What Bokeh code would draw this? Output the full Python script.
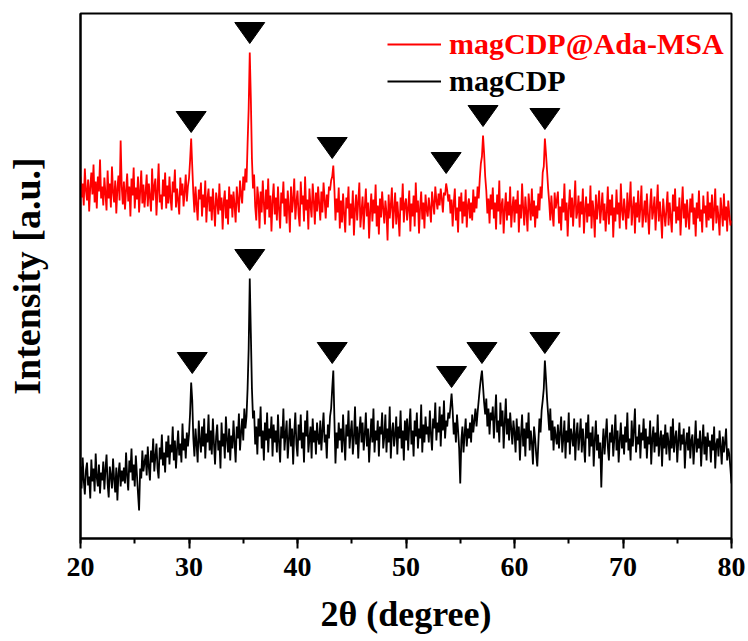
import numpy as np
from bokeh.plotting import figure
from bokeh.models import Range1d, SingleIntervalTicker, FixedTicker, Legend, LegendItem
from bokeh.embed import file_html
from bokeh.resources import INLINE

# 2-theta grid (0.1 degree step, 20..80)
two_theta = np.round(np.arange(20.0, 80.0001, 0.1), 1)

# magCDP@Ada-MSA (red, offset trace) intensity, a.u.
red_intensity = [
    362, 341, 355, 333, 370, 348, 338, 359, 327, 352, 366, 344, 374, 336, 357, 330, 362, 347, 379, 340,
    352, 333, 361, 345, 328, 368, 340, 355, 331, 372, 346, 336, 358, 325, 350, 363, 338, 398, 352, 334,
    357, 329, 348, 365, 337, 352, 322, 360, 343, 371, 330, 351, 339, 362, 326, 347, 368, 335, 354, 331,
    346, 364, 332, 355, 341, 327, 370, 338, 352, 360, 323, 348, 375, 336, 344, 329, 359, 342, 366, 330,
    353, 335, 362, 340, 328, 357, 346, 369, 331, 350, 338, 324, 361, 343, 355, 332, 347, 364, 337, 352,
    360, 378, 400, 372, 345, 326, 352, 334, 318, 349, 339, 356, 322, 344, 331, 358, 316, 340, 350, 327,
    342, 318, 350, 331, 312, 346, 337, 324, 355, 328, 341, 309, 336, 348, 320, 339, 314, 352, 330, 344,
    321, 347, 333, 316, 352, 338, 326, 358, 344, 335, 362, 348, 370, 356, 395, 430, 486, 440, 380, 350,
    364, 332, 318, 352, 340, 310, 347, 326, 358, 335, 314, 349, 329, 360, 321, 343, 307, 338, 355, 324,
    341, 318, 352, 329, 310, 346, 335, 357, 322, 340, 315, 348, 331, 306, 352, 326, 339, 360, 319, 336,
    348, 324, 312, 357, 334, 343, 317, 362, 328, 339, 309, 350, 333, 321, 355, 338, 314, 346, 327, 352,
    335, 318, 347, 326, 356, 339, 320, 344, 331, 352, 348, 358, 362, 373, 350, 318, 340, 326, 351, 310,
    338, 316, 345, 324, 306, 341, 330, 352, 313, 335, 320, 348, 303, 329, 344, 318, 337, 356, 311, 327,
    342, 309, 331, 350, 322, 336, 300, 328, 345, 317, 339, 325, 354, 312, 333, 304, 340, 321, 347, 330,
    315, 338, 326, 298, 344, 320, 333, 351, 310, 329, 346, 314, 337, 322, 302, 341, 328, 355, 316, 334,
    340, 318, 330, 348, 307, 335, 322, 343, 312, 356, 326, 338, 305, 331, 347, 319, 336, 310, 344, 329,
    322, 341, 330, 316, 347, 335, 324, 352, 338, 329, 345, 333, 350, 340, 326, 346, 343, 355, 348, 337,
    344, 325, 339, 312, 335, 350, 318, 331, 306, 342, 327, 346, 315, 337, 322, 349, 311, 333, 340, 320,
    336, 318, 349, 326, 342, 330, 352, 340, 360, 375, 382, 403, 385, 362, 348, 325, 340, 315, 344, 329,
    351, 320, 336, 309, 344, 327, 358, 314, 333, 340, 305, 329, 346, 318, 337, 323, 352, 311, 330, 342,
    316, 339, 325, 348, 306, 334, 320, 355, 330, 313, 342, 326, 307, 345, 332, 318, 350, 322, 338, 311,
    333, 320, 345, 328, 352, 340, 366, 372, 400, 385, 368, 350, 336, 318, 343, 325, 312, 346, 330, 338,
    347, 315, 332, 308, 340, 326, 355, 318, 336, 302, 330, 349, 321, 341, 312, 334, 358, 320, 327, 343,
    311, 337, 324, 350, 305, 329, 342, 316, 335, 322, 353, 310, 338, 327, 301, 344, 319, 332, 348, 315,
    330, 346, 318, 335, 307, 326, 352, 314, 339, 323, 344, 301, 331, 317, 349, 324, 336, 310, 355, 328,
    318, 340, 327, 309, 346, 320, 334, 357, 313, 329, 342, 305, 336, 321, 348, 316, 330, 353, 311, 325,
    338, 316, 345, 324, 304, 333, 350, 319, 328, 342, 308, 331, 354, 317, 337, 322, 300, 340, 326, 312,
    329, 347, 313, 336, 321, 306, 344, 327, 350, 315, 332, 318, 341, 303, 329, 352, 320, 335, 311, 339,
    322, 309, 340, 326, 345, 314, 331, 302, 336, 320, 348, 317, 329, 306, 343, 325, 333, 311, 347, 318,
    336, 320, 344, 308, 329, 350, 315, 333, 322, 303, 341, 327, 312, 345, 318, 332, 307, 338, 324, 313,
    318,
]

# magCDP (black trace) intensity, a.u.
black_intensity = [
    72, 50, 81, 58, 44, 68, 76, 53, 62, 40, 79, 57, 70, 47, 85, 61, 52, 74, 45, 66,
    58, 77, 49, 69, 84, 55, 41, 72, 63, 50, 80, 59, 46, 71, 38, 65, 76, 52, 68, 57,
    71, 55, 86, 62, 48, 78, 66, 90, 58, 74, 52, 83, 64, 45, 28, 70, 60, 88, 67, 76,
    84, 63, 92, 71, 58, 88, 76, 100, 67, 82, 95, 70, 60, 91, 79, 104, 73, 86, 66, 97,
    81, 103, 74, 94, 86, 112, 78, 98, 70, 90, 108, 83, 95, 76, 115, 88, 100, 80, 106, 92,
    104, 125, 156, 138, 100, 82, 110, 94, 76, 118, 98, 86, 112, 92, 120, 80, 105, 96, 124, 88,
    108, 84, 120, 95, 74, 102, 114, 88, 98, 70, 116, 92, 105, 80, 122, 99, 86, 110, 78, 103,
    90, 118, 96, 76, 112, 100, 125, 88, 106, 120, 98, 130, 110, 122, 150, 190, 260, 205, 150, 120,
    128, 94, 112, 84, 120, 102, 132, 90, 108, 78, 116, 98, 126, 86, 110, 100, 122, 82, 114, 96,
    108, 86, 124, 96, 76, 112, 100, 130, 88, 104, 118, 80, 98, 120, 92, 110, 74, 106, 126, 94,
    82, 114, 98, 124, 90, 106, 76, 118, 102, 128, 86, 100, 112, 80, 120, 96, 108, 84, 116, 100,
    94, 118, 88, 108, 126, 96, 104, 80, 114, 100, 122, 130, 150, 168, 120, 75, 106, 90, 116, 98,
    110, 86, 124, 98, 78, 114, 102, 128, 90, 106, 118, 84, 100, 132, 94, 112, 80, 108, 122, 96,
    116, 88, 104, 126, 92, 110, 76, 100, 120, 96, 130, 86, 108, 98, 118, 82, 112, 104, 126, 90,
    102, 124, 86, 110, 96, 132, 80, 106, 116, 92, 104, 122, 84, 112, 100, 128, 90, 108, 78, 118,
    98, 120, 88, 112, 130, 94, 108, 82, 118, 102, 126, 90, 110, 100, 134, 86, 114, 96, 122, 104,
    112, 96, 128, 104, 88, 120, 110, 136, 98, 116, 106, 132, 92, 124, 108, 138, 100, 118, 112, 126,
    120, 132, 145, 128, 104, 116, 96, 124, 108, 90, 55, 98, 112, 86, 104, 120, 92, 110, 100, 116,
    96, 124, 106, 118, 130, 112, 126, 138, 150, 160, 168, 152, 136, 124, 140, 112, 130, 104, 126, 118,
    132, 100, 122, 144, 106, 118, 96, 136, 112, 128, 90, 116, 140, 104, 120, 98, 126, 110, 94, 118,
    106, 86, 120, 98, 112, 78, 104, 124, 92, 110, 82, 116, 100, 126, 88, 108, 96, 74, 112, 100,
    84, 72, 96, 120, 106, 128, 138, 150, 178, 160, 140, 124, 108, 130, 98, 118, 88, 112, 102, 94,
    114, 90, 106, 122, 86, 100, 118, 80, 108, 96, 126, 84, 110, 102, 92, 120, 78, 104, 116, 88,
    102, 120, 86, 110, 94, 76, 116, 100, 124, 82, 106, 92, 112, 72, 98, 118, 88, 104, 80, 96,
    51, 90, 110, 84, 102, 120, 92, 78, 106, 96, 114, 82, 100, 124, 88, 108, 76, 98, 116, 90,
    104, 84, 112, 96, 126, 88, 100, 78, 118, 92, 108, 130, 86, 102, 94, 114, 80, 106, 98, 120,
    90, 110, 80, 102, 94, 118, 74, 100, 112, 86, 106, 92, 124, 82, 98, 108, 72, 104, 90, 114,
    84, 106, 96, 78, 112, 90, 120, 86, 100, 108, 76, 98, 116, 88, 104, 94, 110, 70, 96, 106,
    88, 112, 80, 98, 104, 74, 94, 118, 86, 100, 90, 108, 72, 96, 114, 84, 102, 78, 106, 92,
    98, 76, 104, 88, 112, 70, 94, 100, 82, 108, 92, 74, 102, 86, 96, 110, 78, 90, 84, 70,
    55,
]

# peak markers (position in 2-theta, level of marker tip)
red_peaks = [30.2, 35.6, 43.2, 53.7, 57.1, 62.8]
red_marker_level = [406, 495, 380, 365, 412, 409]
black_peaks = [30.3, 35.6, 43.2, 54.2, 57.0, 62.8]
black_marker_level = [165, 268, 175, 151, 175, 185]

series_labels = ["magCDP@Ada-MSA", "magCDP"]

FONT = "Liberation Serif"
TRI_HALF_W = 1.38   # in degrees (~15 px)
TRI_H = 21          # in intensity units (~21 px)

p = figure(width=748, height=641, x_range=Range1d(20, 80), y_range=Range1d(0, 525),
           output_backend="svg", toolbar_location=None,
           min_border_left=80, min_border_right=17, min_border_top=13, min_border_bottom=103)
p.grid.visible = False
p.outline_line_color = "black"
p.outline_line_width = 2
p.background_fill_color = "white"
p.border_fill_color = "white"

# x axis
p.xaxis.ticker = SingleIntervalTicker(interval=10, num_minor_ticks=2)
p.xaxis.axis_line_width = 2
p.xaxis.major_tick_line_width = 2
p.xaxis.minor_tick_line_width = 2
p.xaxis.major_tick_out = 10
p.xaxis.major_tick_in = 0
p.xaxis.minor_tick_out = 5
p.xaxis.minor_tick_in = 0
p.xaxis.major_label_text_font = FONT
p.xaxis.major_label_text_font_style = "bold"
p.xaxis.major_label_text_font_size = "28px"
p.xaxis.major_label_text_color = "black"
p.xaxis.major_label_standoff = 9
p.xaxis.axis_label = "2θ (degree)"
p.xaxis.axis_label_text_font = FONT
p.xaxis.axis_label_text_font_style = "bold"
p.xaxis.axis_label_text_font_size = "36px"
p.xaxis.axis_label_text_color = "black"
p.xaxis.axis_label_standoff = 15

# y axis (no ticks)
p.yaxis.ticker = FixedTicker(ticks=[])
p.yaxis.axis_line_width = 2
p.yaxis.major_tick_out = 0
p.yaxis.major_tick_in = 0
p.yaxis.minor_tick_out = 0
p.yaxis.minor_tick_in = 0
p.yaxis.major_label_standoff = 0
p.yaxis.axis_label = "Intensity [a.u.]"
p.yaxis.axis_label_text_font = FONT
p.yaxis.axis_label_text_font_style = "bold"
p.yaxis.axis_label_text_font_size = "38px"
p.yaxis.axis_label_text_color = "black"
p.yaxis.axis_label_standoff = 33

r_black = p.line(two_theta, black_intensity, line_color="black", line_width=1.8)
r_red = p.line(two_theta, red_intensity, line_color="#ff0000", line_width=1.8)

def tri_patches(xs, levels):
    px = [[x - TRI_HALF_W, x + TRI_HALF_W, x] for x in xs]
    py = [[t + TRI_H, t + TRI_H, t] for t in levels]
    return px, py

rx, ry = tri_patches(red_peaks, red_marker_level)
bx, by = tri_patches(black_peaks, black_marker_level)
p.patches(rx + bx, ry + by, fill_color="black", line_color="black", line_width=1)

def make_legend(label, renderer, color, loc):
    return Legend(items=[LegendItem(label=label, renderers=[renderer])], location=loc,
                  border_line_color=None, background_fill_alpha=0, padding=0, margin=0,
                  spacing=0, glyph_width=54, glyph_height=34, label_height=34,
                  label_standoff=8, label_text_font=FONT, label_text_font_style="bold",
                  label_text_font_size="30px", label_text_color=color)

p.add_layout(make_legend(series_labels[0], r_red, "#ff0000", (307, 477)))
p.add_layout(make_legend(series_labels[1], r_black, "black", (307, 440)))

open("out.html", "w").write(file_html(p, INLINE))
